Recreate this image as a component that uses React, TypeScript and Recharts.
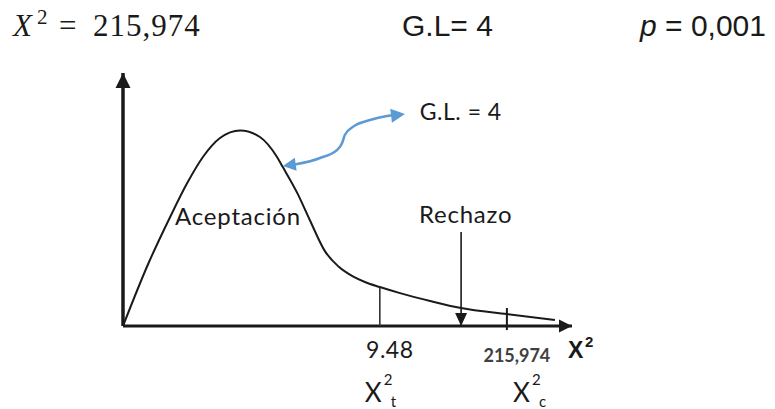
import React from "react";
import {
  ComposedChart,
  Line,
  XAxis,
  YAxis,
  ReferenceLine,
  ReferenceDot,
} from "recharts";

// density curve (arbitrary 0-100 units on both axes)
const curveX = [0, 5.6, 10.5, 14.3, 17.8, 21.6, 26.1, 30.5, 34.3, 35.6, 38.8, 41.6, 45.0, 48.0, 51.2, 54.0, 57.2, 61.7, 68.4, 75.3, 85.5, 96.2];
const curveY = [0, 24.5, 43.1, 56.5, 66.8, 74.3, 77.3, 74.7, 66.8, 62.8, 52.6, 41.9, 29.5, 23.5, 19.6, 17.3, 15.4, 13.0, 9.9, 7.1, 4.7, 2.4];

// blue "G.L." pointer
const pointerX = [37.5, 38.8, 43.9, 47.7, 48.8, 49.4, 51.2, 55.0, 58.8, 60.6];
const pointerY = [63.6, 64.0, 66.4, 69.6, 72.3, 75.5, 78.7, 81.4, 83.0, 83.4];

// critical value and observed statistic on the x axis
const xTicks = [57.2, 85.5];
const xTickLabels = ["9.48", "215,974"];
const xTickSubs = ["t", "c"];
const criticalHeight = 15.4;
const rejectArrowX = 75.3;
const rejectArrowTop = 37.2;

const header = { stat: "215,974", gl: "G.L= 4", p: "0,001" };

const curveData = curveX.map((x, i) => ({ x, y: curveY[i] }));
const pointerData = pointerX.map((x, i) => ({ x, y: pointerY[i] }));

const FONT = "Lato, 'Open Sans', sans-serif";
const INK = "#1a1a1a";
const BLUE = "#5B9BD5";

const Arrowhead = (props: any) => {
  const { cx, cy, angle = 0, len = 13, half = 6, color = INK } = props;
  if (cx == null || cy == null) return null;
  return (
    <polygon
      transform={`translate(${cx},${cy}) rotate(${angle})`}
      points={`0,0 ${-len},${-half} ${-len},${half}`}
      fill={color}
    />
  );
};

const TextMark = (props: any) => {
  const { cx, cy, text, size = 21, spacing = 0.8 } = props;
  return (
    <text x={cx} y={cy} fontFamily={FONT} fontSize={size} letterSpacing={spacing} fill={INK}>
      {text}
    </text>
  );
};

const XTick = (props: any) => {
  const { x, y, payload } = props;
  const i = xTicks.indexOf(payload.value);
  if (i < 0) return null;
  const bold = i === 1;
  const xs = bold ? x + 6 : x - 15;
  return (
    <g fontFamily={FONT} fill={INK}>
      <text
        x={x + 10}
        y={bold ? y + 28 : y + 24}
        textAnchor="middle"
        fontSize={bold ? 18 : 23}
        fontWeight={bold ? 700 : 400}
        letterSpacing={bold ? 0 : 0.5}
        fill={bold ? "#404040" : INK}
      >
        {xTickLabels[i]}
      </text>
      <text x={xs} y={y + 68} fontSize={26}>X</text>
      <text x={xs + 19} y={y + 51} fontSize={15}>2</text>
      <text x={xs + 26} y={y + 73} fontSize={15}>{xTickSubs[i]}</text>
    </g>
  );
};

export default function App() {
  return (
    <div style={{ position: "absolute", left: 0, top: 0, width: 775, height: 409, background: "#fff" }}>
      <svg width={775} height={60} style={{ position: "absolute", left: 0, top: 0 }}>
        <g fill={INK}>
          <text x={13} y={36} fontFamily="'Liberation Serif', serif" fontStyle="italic" fontSize={31}>X</text>
          <text x={37} y={24} fontFamily="'Liberation Serif', serif" fontSize={21}>2</text>
          <text x={59} y={36} fontFamily="'Liberation Serif', serif" fontSize={31}>=</text>
          <text x={93} y={36} fontFamily="'Liberation Serif', serif" fontSize={31} letterSpacing={1}>{header.stat}</text>
          <text x={402} y={36} fontFamily="'Liberation Sans', Arial, sans-serif" fontSize={30}>{header.gl}</text>
          <text x={640} y={36} fontFamily="'Liberation Sans', Arial, sans-serif" fontSize={30}>
            <tspan fontStyle="italic">p</tspan> = {header.p}
          </text>
        </g>
      </svg>
      <ComposedChart
        width={775}
        height={409}
        data={curveData}
        margin={{ top: 73, right: 203, bottom: 53, left: 123 }}
      >
        <XAxis
          type="number"
          dataKey="x"
          domain={[0, 100]}
          allowDataOverflow
          ticks={xTicks}
          interval={0}
          axisLine={false}
          tickLine={false}
          height={30}
          tick={<XTick />}
        />
        <YAxis type="number" domain={[0, 100]} allowDataOverflow hide />

        {/* axes */}
        <ReferenceLine x={0} stroke={INK} strokeWidth={3.5} />
        <ReferenceLine y={0} stroke={INK} strokeWidth={3} />
        <ReferenceDot x={0} y={100} ifOverflow="visible" shape={(p: any) => <Arrowhead {...p} angle={-90} len={15} half={7.5} />} />
        <ReferenceDot x={100} y={0} ifOverflow="visible" shape={(p: any) => <Arrowhead {...p} angle={0} len={13} half={6.5} />} />

        {/* critical value, rejection arrow, observed statistic */}
        <ReferenceLine segment={[{ x: xTicks[0], y: 0 }, { x: xTicks[0], y: criticalHeight }]} stroke="#333" strokeWidth={1.6} />
        <ReferenceLine segment={[{ x: rejectArrowX, y: 0 }, { x: rejectArrowX, y: rejectArrowTop }]} stroke={INK} strokeWidth={1.6} />
        <ReferenceDot x={rejectArrowX} y={0} ifOverflow="visible" shape={(p: any) => <Arrowhead {...p} angle={90} len={13} half={6} />} />
        <ReferenceLine ifOverflow="visible" segment={[{ x: xTicks[1], y: -1.6 }, { x: xTicks[1], y: 7.1 }]} stroke={INK} strokeWidth={2} />

        <Line
          type="monotone"
          dataKey="y"
          stroke={INK}
          strokeWidth={2}
          dot={false}
          activeDot={false}
          isAnimationActive={false}
        />
        <Line
          data={pointerData}
          type="monotone"
          dataKey="y"
          stroke={BLUE}
          strokeWidth={2.5}
          dot={false}
          activeDot={false}
          isAnimationActive={false}
        />
        <ReferenceDot x={35.6} y={63.2} ifOverflow="visible" shape={(p: any) => <Arrowhead {...p} angle={172} len={13} half={6.5} color={BLUE} />} />
        <ReferenceDot x={62.8} y={83.8} ifOverflow="visible" shape={(p: any) => <Arrowhead {...p} angle={-7} len={14} half={7} color={BLUE} />} />

        {/* annotations */}
        <ReferenceDot x={11.6} y={39.9} ifOverflow="visible" shape={(p: any) => <TextMark {...p} text="Aceptación" size={24} />} />
        <ReferenceDot x={65.9} y={40.7} ifOverflow="visible" shape={(p: any) => <TextMark {...p} text="Rechazo" size={24} />} />
        <ReferenceDot x={66.1} y={81.4} ifOverflow="visible" shape={(p: any) => <TextMark {...p} text="G.L. = 4" size={23} spacing={0.5} />} />
        <ReferenceDot
          x={99.1}
          y={-12.6}
          ifOverflow="visible"
          shape={(p: any) => (
            <g fontFamily="'Liberation Sans', Arial, sans-serif" fontWeight={700} fill={INK}>
              <text x={p.cx} y={p.cy} fontSize={23}>X</text>
              <text x={p.cx + 17} y={p.cy - 11} fontSize={15}>2</text>
            </g>
          )}
        />
      </ComposedChart>
    </div>
  );
}
